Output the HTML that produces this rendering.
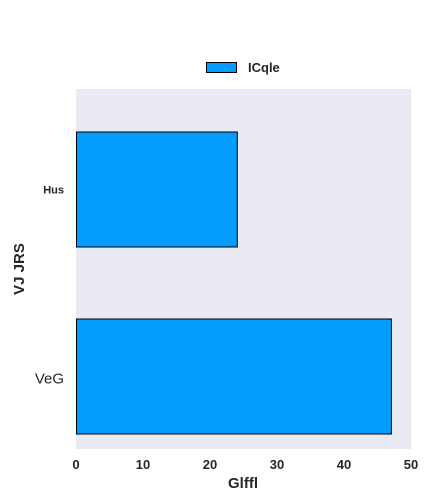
<!DOCTYPE html>
<html><head><meta charset="utf-8"><style>
body{margin:0;background:#fff;}
svg{display:block;font-family:"Liberation Sans",sans-serif;}
</style></head><body>
<svg width="432" height="504">
<rect x="76" y="89" width="335" height="360" fill="#eaeaf2"/>
<g id="bars"></g>
<g id="xticks"></g>
<g id="ylabels"></g>
<text x="243" y="488" text-anchor="middle" font-size="15" font-weight="bold" fill="#262626">Glffl</text>
<text transform="translate(24,269) rotate(-90)" text-anchor="middle" font-size="15" font-weight="bold" fill="#262626">VJ JRS</text>
<g>
<rect x="206.5" y="62.5" width="30" height="10" fill="#039dff" stroke="#000"/>
<text x="248" y="72" font-size="13" font-weight="bold" fill="#262626">ICqle</text>
</g>
</svg>
<script>
const categories = ["Hus", "VeG"];
const values = [24, 47];
const ticks = [0, 10, 20, 30, 40, 50];
const NS = "http://www.w3.org/2000/svg";
const x = v => 76 + v * (335 / 50);
const yCenter = i => 189.5 + i * 187;
const bh = 115;
const bars = document.getElementById("bars");
values.forEach((v, i) => {
  const r = document.createElementNS(NS, "rect");
  r.setAttribute("x", x(0) + 0.5);
  r.setAttribute("y", yCenter(i) - bh / 2);
  r.setAttribute("width", x(v) - x(0));
  r.setAttribute("height", bh);
  r.setAttribute("fill", "#039dff");
  r.setAttribute("stroke", "#000");
  r.setAttribute("stroke-width", "1");
  
  
  bars.appendChild(r);
});
const xt = document.getElementById("xticks");
ticks.forEach(t => {
  const tx = document.createElementNS(NS, "text");
  tx.setAttribute("x", x(t));
  tx.setAttribute("y", 469);
  tx.setAttribute("text-anchor", "middle");
  tx.setAttribute("font-size", "13");
  tx.setAttribute("font-weight", "bold");
  tx.setAttribute("fill", "#262626");
  tx.textContent = t;
  
  
  xt.appendChild(tx);
});
const yl = document.getElementById("ylabels");
categories.forEach((c, i) => {
  const tx = document.createElementNS(NS, "text");
  tx.setAttribute("x", 64);
  tx.setAttribute("text-anchor", "end");
  tx.setAttribute("fill", "#262626");
  if (i === 0) { tx.setAttribute("y", yCenter(i) + 4); tx.setAttribute("font-size", "11"); tx.setAttribute("font-weight", "bold"); }
  else { tx.setAttribute("y", yCenter(i) + 7); tx.setAttribute("font-size", "15"); }
  tx.textContent = c;
  
  
  yl.appendChild(tx);
});
</script>
</body></html>
